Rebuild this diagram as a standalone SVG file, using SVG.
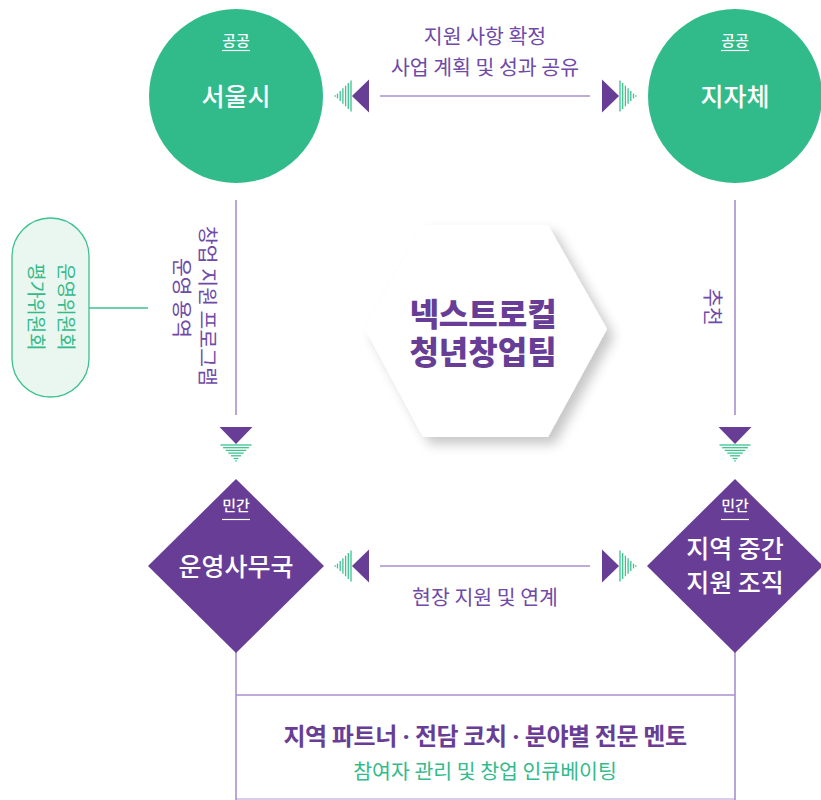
<svg xmlns="http://www.w3.org/2000/svg" xmlns:xlink="http://www.w3.org/1999/xlink" width="821" height="800" viewBox="0 0 821 800">
<style>
text{font-family:"Noto Sans CJK KR","Noto Sans",sans-serif;}
.w{fill:#ffffff;text-anchor:middle;}
.tag{font-size:15px;font-weight:500;}
.big{font-size:25px;font-weight:500;}
.pl{fill:#6f4aa8;font-size:20.5px;text-anchor:middle;}
.gl{fill:#33bb8b;font-size:19px;text-anchor:middle;}
.conn{stroke:#a98fd0;stroke-width:1.6;fill:none;}
.stripe{stroke:#3cc28f;stroke-width:1.3;}
.dot{font-family:"Noto Sans",sans-serif;}
</style>
<defs>
<g id="ah">
<polygon points="0,0 17,-16.5 17,16.5" fill="#673d96"/>
<line class="stripe" x1="-1" y1="-15.5" x2="-1" y2="15.5"/>
<line class="stripe" x1="-3.7" y1="-12.9" x2="-3.7" y2="12.9"/>
<line class="stripe" x1="-6.4" y1="-10.3" x2="-6.4" y2="10.3"/>
<line class="stripe" x1="-9.1" y1="-7.7" x2="-9.1" y2="7.7"/>
<line class="stripe" x1="-11.8" y1="-5" x2="-11.8" y2="5"/>
<line class="stripe" x1="-14.5" y1="-2.4" x2="-14.5" y2="2.4"/>
<line class="stripe" x1="-16.8" y1="-0.8" x2="-16.8" y2="0.8"/>
</g>
<filter id="sh" x="-20%" y="-20%" width="150%" height="150%">
<feDropShadow dx="7" dy="7" stdDeviation="6" flood-color="#000" flood-opacity="0.22"/>
</filter>
</defs>

<g id="connectors">
<line class="conn" x1="380" y1="96" x2="590" y2="96"/>
<use xlink:href="#ah" transform="translate(352,96)"/>
<use xlink:href="#ah" transform="translate(619,96) scale(-1,1)"/>
<line class="conn" x1="380" y1="566" x2="590" y2="566"/>
<use xlink:href="#ah" transform="translate(352,566)"/>
<use xlink:href="#ah" transform="translate(619,566) scale(-1,1)"/>
<line class="conn" x1="236" y1="200" x2="236" y2="415"/>
<use xlink:href="#ah" transform="translate(236,444) rotate(-90)"/>
<line class="conn" x1="735" y1="200" x2="735" y2="415"/>
<use xlink:href="#ah" transform="translate(735,444) rotate(-90)"/>
<line x1="89" y1="308" x2="148" y2="308" stroke="#3cc28f" stroke-width="1.4"/>
<polyline class="conn" points="236,650 236,800"/>
<polyline class="conn" points="735,650 735,800"/>
<line class="conn" x1="236" y1="695" x2="735" y2="695"/>
<line class="conn" x1="236" y1="799" x2="735" y2="799" stroke-opacity="0.6"/>
<text class="pl" x="485" y="44">지원 사항 확정</text>
<text class="pl" x="485" y="75">사업 계획 및 성과 공유</text>
<text class="pl" x="485" y="605">현장 지원 및 연계</text>
<g transform="translate(207,306) rotate(90)">
<text class="pl" x="0" y="7">창업 지원 프로그램</text>
</g>
<g transform="translate(181,298) rotate(90)">
<text class="pl" x="0" y="7">운영 용역</text>
</g>
<g transform="translate(712,307) rotate(90)">
<text class="pl" x="0" y="7">추천</text>
</g>
</g>

<g id="seoul">
<circle cx="236" cy="96" r="87" fill="#31bb8b"/>
<text class="w tag" x="236" y="46">공공</text>
<line x1="222" y1="50.5" x2="250" y2="50.5" stroke="#fff" stroke-width="1.2"/>
<text class="w big" x="236" y="106">서울시</text>
</g>

<g id="jachi">
<circle cx="735" cy="96" r="87" fill="#31bb8b"/>
<text class="w tag" x="735" y="46">공공</text>
<line x1="721" y1="50.5" x2="749" y2="50.5" stroke="#fff" stroke-width="1.2"/>
<text class="w big" x="735" y="106">지자체</text>
</g>

<g id="committee">
<rect x="12" y="218" width="77" height="179" rx="38.5" fill="#eaf6f0" stroke="#3cc28f" stroke-width="1.3"/>
<g transform="translate(65,307) rotate(90)">
<text class="gl" x="0" y="6.5">운영위원회</text>
</g>
<g transform="translate(35,307) rotate(90)">
<text class="gl" x="0" y="6.5">평가위원회</text>
</g>
</g>

<g id="team">
<polygon points="423,225 548,225 607,329 548,437 423,437 365,329" fill="#ffffff" filter="url(#sh)"/>
<text fill="#673d96" font-size="32" font-weight="900" text-anchor="middle"><tspan x="483" y="326">넥스트로컬</tspan><tspan x="483" y="364">청년창업팀</tspan></text>
</g>

<g id="office">
<polygon points="236,479 324,566 236,653 148,566" fill="#673d96"/>
<text class="w tag" x="236" y="511">민간</text>
<line x1="222" y1="519.5" x2="250" y2="519.5" stroke="#fff" stroke-width="1.2"/>
<text class="w big" x="236" y="576">운영사무국</text>
</g>

<g id="intermediary">
<polygon points="735,479 823,566 735,653 647,566" fill="#673d96"/>
<text class="w tag" x="735" y="511">민간</text>
<line x1="721" y1="519.5" x2="749" y2="519.5" stroke="#fff" stroke-width="1.2"/>
<text class="w big" x="735" y="558">지역 중간</text>
<text class="w big" x="735" y="592">지원 조직</text>
</g>

<g id="mentors">
<text x="485" y="745" fill="#673d96" font-size="24" font-weight="700" text-anchor="middle" letter-spacing="-0.4">지역 파트너<tspan class="dot"> · </tspan>전담 코치<tspan class="dot"> · </tspan>분야별 전문 멘토</text>
<text x="485" y="779" fill="#33bb8b" font-size="20.5" text-anchor="middle">참여자 관리 및 창업 인큐베이팅</text>
</g>
</svg>
